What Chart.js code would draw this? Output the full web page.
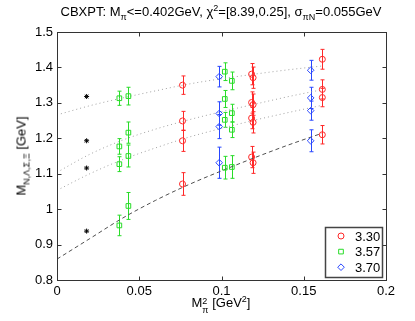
<!DOCTYPE html>
<html lang="en">
<head>
  <meta charset="UTF-8">
  <script src="https://cdn.jsdelivr.net/npm/chart.js"></script>
  <title>CBXPT fit</title>
  <style>
    html,body{margin:0;padding:0;background:#fff;overflow:hidden;}
    #wrap{position:relative;width:415px;height:321px;font-family:"Liberation Sans",Arial,sans-serif;color:#000;}
    #c{position:absolute;left:0;top:0;}
    .lbl{position:absolute;white-space:nowrap;font-size:13px;line-height:15px;}
    .lbl sub,.lbl sup{font-size:9px;line-height:0;}
    .lbl sub{vertical-align:-4px;}
    .lbl sup{vertical-align:5px;}
    #title{left:221px;top:4px;transform:translateX(-50%);}
    #xlab{left:221px;top:305px;transform:translate(-50%,-50%);}
    #ylab{left:21px;top:156px;transform:translate(-50%,-50%) rotate(-90deg);}
    .ss{display:inline-block;font-size:9px;line-height:9px;vertical-align:-6px;}
    .ss span{display:block;}
  </style>
</head>
<body>
<div id="wrap">
  <canvas id="c" width="415" height="321"></canvas>
  <div class="lbl" id="title">CBXPT: M<sub>π</sub>&lt;=0.402GeV, χ<sup>2</sup>=[8.39,0.25], σ<sub>πN</sub>=0.055GeV</div>
  <div class="lbl" id="xlab">M<span class="ss"><span>2</span><span>π</span></span> [GeV<sup>2</sup>]</div>
  <div class="lbl" id="ylab">M<sub>N,Λ,Σ,Ξ</sub> [GeV]</div>
</div>
<script>
  // axis ticks
  const xTickVals = [0, 0.05, 0.1, 0.15, 0.2];
  const yTickVals = [0.8, 0.9, 1.0, 1.1, 1.2, 1.3, 1.4, 1.5];

  // beta = 3.30 (red circles)
  const redX = [0.0763, 0.0763, 0.0763, 0.0763, 0.1183, 0.1192, 0.1183, 0.1192, 0.1183, 0.1192, 0.1183, 0.1192, 0.1613, 0.1613, 0.1613, 0.1613];
  const redY = [1.350, 1.249, 1.193, 1.071, 1.381, 1.371, 1.301, 1.295, 1.257, 1.245, 1.147, 1.131, 1.423, 1.338, 1.315, 1.210];
  const redErr = [0.026, 0.027, 0.030, 0.032, 0.030, 0.030, 0.030, 0.030, 0.030, 0.030, 0.030, 0.030, 0.028, 0.027, 0.026, 0.026];

  // beta = 3.57 (green squares)
  const greenX = [0.0379, 0.0434, 0.0379, 0.0434, 0.0379, 0.0434, 0.0379, 0.0434, 0.1020, 0.1063, 0.1020, 0.1063, 0.1020, 0.1063, 0.1020, 0.1063];
  const greenY = [1.313, 1.319, 1.177, 1.216, 1.127, 1.150, 0.954, 1.009, 1.388, 1.362, 1.311, 1.271, 1.252, 1.224, 1.117, 1.119];
  const greenErr = [0.020, 0.025, 0.022, 0.030, 0.021, 0.031, 0.029, 0.038, 0.025, 0.025, 0.024, 0.025, 0.021, 0.022, 0.032, 0.032];

  // beta = 3.70 (blue diamonds)
  const blueX = [0.0986, 0.0986, 0.0986, 0.0986, 0.1542, 0.1542, 0.1542, 0.1542];
  const blueY = [1.374, 1.270, 1.233, 1.131, 1.392, 1.314, 1.278, 1.193];
  const blueErr = [0.029, 0.033, 0.034, 0.044, 0.028, 0.030, 0.027, 0.031];

  // physical point (black stars)
  const physX = [0.018, 0.018, 0.018, 0.018];
  const physY = [1.318, 1.193, 1.116, 0.938];

  // fit curves
  const fitX = [0, 0.02, 0.04, 0.06, 0.08, 0.10, 0.12, 0.14, 0.161];
  const fitXi = [1.266, 1.292, 1.314, 1.334, 1.353, 1.368, 1.381, 1.393, 1.404];
  const fitSigma = [1.104, 1.155, 1.195, 1.226, 1.252, 1.275, 1.296, 1.317, 1.337];
  const fitLambda = [1.053, 1.100, 1.140, 1.173, 1.203, 1.228, 1.251, 1.272, 1.293];
  const fitN = [0.859, 0.917, 0.975, 1.025, 1.069, 1.108, 1.145, 1.180, 1.214];

  const pts = (xs, ys) => xs.map((x, i) => ({x: x, y: ys[i]}));

  const RED = 'rgb(255,40,40)', GREEN = 'rgb(40,220,40)', BLUE = 'rgb(40,70,255)';

  function fitLine(ys, color, dash){
    return {type:'line', data: pts(fitX, ys), showLine:true, borderColor:color, borderWidth:1,
      borderDash:dash, pointRadius:0, cubicInterpolationMode:'monotone', fill:false, order:3};
  }

  const errorBars = {
    id:'errorBars',
    beforeDatasetsDraw(chart){
      const ctx = chart.ctx, ys = chart.scales.y;
      chart.data.datasets.forEach((ds, i) => {
        if(!ds.errors) return;
        const meta = chart.getDatasetMeta(i);
        ctx.save();
        ctx.strokeStyle = ds.borderColor;
        ctx.lineWidth = 1;
        meta.data.forEach((pt, j) => {
          const v = ds.data[j].y, e = ds.errors[j];
          const t = ys.getPixelForValue(v + e), b = ys.getPixelForValue(v - e);
          const x = Math.round(pt.x) + 0.5;
          ctx.beginPath();
          ctx.moveTo(x, t); ctx.lineTo(x, b);
          ctx.moveTo(x - 2, t); ctx.lineTo(x + 2, t);
          ctx.moveTo(x - 2, b); ctx.lineTo(x + 2, b);
          ctx.stroke();
        });
        ctx.restore();
      });
    }
  };

  const frame = {
    id:'frame',
    afterDraw(chart){
      const ctx = chart.ctx, a = chart.chartArea, xs = chart.scales.x, ys = chart.scales.y;
      const l = Math.round(a.left) + 0.5, r = Math.round(a.right) + 0.5;
      const t = Math.round(a.top) + 0.5, b = Math.round(a.bottom) + 0.5;
      ctx.save();
      ctx.strokeStyle = '#333';
      ctx.lineWidth = 1;
      ctx.strokeRect(l, t, r - l, b - t);
      ctx.beginPath();
      xTickVals.forEach(v => {
        const p = Math.round(xs.getPixelForValue(v)) + 0.5;
        ctx.moveTo(p, b); ctx.lineTo(p, b - 4);
        ctx.moveTo(p, t); ctx.lineTo(p, t + 4);
      });
      yTickVals.forEach(v => {
        const p = Math.round(ys.getPixelForValue(v)) + 0.5;
        ctx.moveTo(l, p); ctx.lineTo(l + 4, p);
        ctx.moveTo(r, p); ctx.lineTo(r - 4, p);
      });
      ctx.stroke();
      ctx.restore();
    }
  };

  const boxLegend = {
    id:'boxLegend',
    afterDraw(chart){
      const ctx = chart.ctx;
      const items = chart.data.datasets.filter(d => d.inLegend);
      ctx.save();
      ctx.fillStyle = '#fff';
      ctx.fillRect(325.5, 227.5, 57, 50);
      ctx.strokeStyle = '#444';
      ctx.lineWidth = 1.5;
      ctx.strokeRect(325.5, 227.5, 57, 50);
      ctx.font = '13px "Liberation Sans", Arial, sans-serif';
      ctx.textBaseline = 'middle';
      items.forEach((d, i) => {
        const y = 236 + i * 15.6;
        ctx.strokeStyle = d.borderColor;
        ctx.fillStyle = 'rgba(0,0,0,0)';
        ctx.lineWidth = 1;
        Chart.helpers.drawPoint(ctx, {pointStyle:d.pointStyle, radius:d.pointRadius, rotation:0, borderWidth:1}, 341, y);
        ctx.fillStyle = '#000';
        ctx.fillText(d.label, 355, y + 1);
      });
      ctx.restore();
    }
  };

  new Chart(document.getElementById('c'), {
    type:'scatter',
    data:{
      datasets:[
        fitLine(fitXi, '#a0a0a0', [1, 3]),
        fitLine(fitSigma, '#a0a0a0', [1, 3]),
        fitLine(fitLambda, '#a0a0a0', [1, 3]),
        fitLine(fitN, '#505050', [4, 3]),
        {label:'phys', data:pts(physX, physY), pointStyle:'star', pointRadius:2.5, borderColor:'#000', borderWidth:1, order:1},
        {label:'3.30', inLegend:true, data:pts(redX, redY), errors:redErr, pointStyle:'circle', pointRadius:3,
          borderColor:RED, backgroundColor:'rgba(0,0,0,0)', borderWidth:1, order:1},
        {label:'3.57', inLegend:true, data:pts(greenX, greenY), errors:greenErr, pointStyle:'rect', pointRadius:3.3,
          borderColor:GREEN, backgroundColor:'rgba(0,0,0,0)', borderWidth:1, order:1},
        {label:'3.70', inLegend:true, data:pts(blueX, blueY), errors:blueErr, pointStyle:'rectRot', pointRadius:3.3,
          borderColor:BLUE, backgroundColor:'rgba(0,0,0,0)', borderWidth:1, order:1}
      ]
    },
    options:{
      responsive:false,
      animation:false,
      events:[],
      layout:{padding:{top:32, right:29, left:0, bottom:0}},
      plugins:{legend:{display:false}, tooltip:{enabled:false}, title:{display:false}},
      scales:{
        x:{
          type:'linear', min:0, max:0.2,
          afterBuildTicks: s => { s.ticks = xTickVals.map(v => ({value:v})); },
          afterFit: s => { s.height = 41; },
          grid:{display:false, drawTicks:false}, border:{display:false},
          ticks:{color:'#000', padding:4, maxRotation:0, font:{family:'"Liberation Sans", Arial, sans-serif', size:13},
            callback: v => String(+v.toFixed(2))}
        },
        y:{
          type:'linear', min:0.8, max:1.5,
          afterBuildTicks: s => { s.ticks = yTickVals.map(v => ({value:v})); },
          afterFit: s => { s.width = 57; },
          grid:{display:false, drawTicks:false}, border:{display:false},
          ticks:{color:'#000', padding:4, font:{family:'"Liberation Sans", Arial, sans-serif', size:13},
            callback: v => String(+v.toFixed(2))}
        }
      }
    },
    plugins:[errorBars, frame, boxLegend]
  });
</script>
</body>
</html>
